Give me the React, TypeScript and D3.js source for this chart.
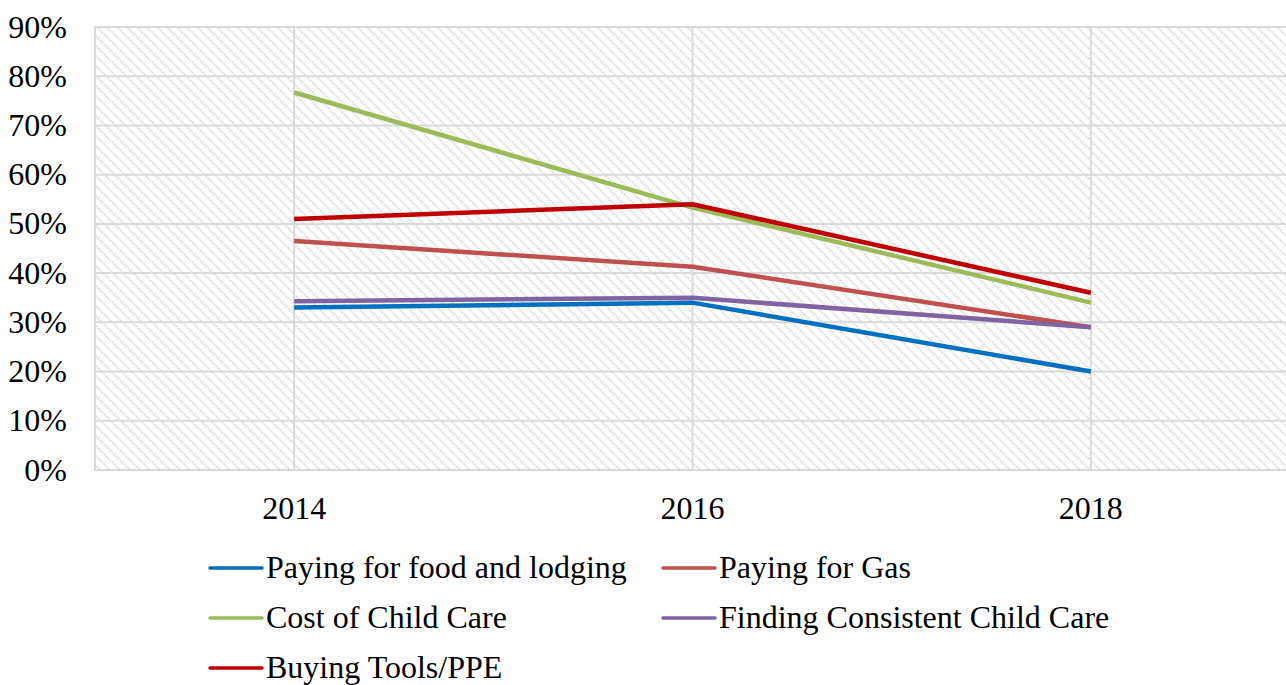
import React from "react";
import * as d3 from "d3";

// Survey years along the x axis
const years = ["2014", "2016", "2018"];

// Share of respondents reporting each hardship (percent)
const foodLodging = [33, 34, 20];
const gas = [46.5, 41.3, 29];
const childCareCost = [76.7, 53.3, 34];
const childCareConsistent = [34.3, 35, 29];
const toolsPPE = [51, 54, 36];

const seriesNames = [
  "Paying for food and lodging",
  "Paying for Gas",
  "Cost of Child Care",
  "Finding Consistent Child Care",
  "Buying Tools/PPE",
];
const seriesColors = ["#0070C0", "#C0504D", "#9BBB59", "#8064A2", "#C00000"];
const seriesValues = [foodLodging, gas, childCareCost, childCareConsistent, toolsPPE];

const yTicks = [0, 10, 20, 30, 40, 50, 60, 70, 80, 90];

const W = 1286;
const H = 685;
const plot = { left: 95, right: 1290, top: 27, bottom: 470 };
const FONT = "'Liberation Serif', 'Times New Roman', serif";
const FS = 32;

export default function App() {
  const x = d3
    .scaleBand<string>()
    .domain(years)
    .range([plot.left, plot.right])
    .paddingInner(0)
    .paddingOuter(0);
  const cx = (yr: string) => (x(yr) ?? 0) + x.bandwidth() / 2;
  const y = d3.scaleLinear().domain([0, 90]).range([plot.bottom, plot.top]);

  const line = d3
    .line<number>()
    .x((_, i) => cx(years[i]))
    .y((v) => y(v));

  // legend placement: two columns, three rows
  const legendCols = [210, 663];
  const legendRows = [568, 618, 668];

  return (
    <svg
      width={W}
      height={H}
      style={{ position: "absolute", left: 0, top: 0, background: "#fff" }}
    >
      <defs>
        <pattern id="hatch" width="10" height="10" patternUnits="userSpaceOnUse">
          <rect width="10" height="10" fill="#ffffff" />
          <path
            d="M-2,-2 L12,12 M-2,8 L2,12 M8,-2 L12,2"
            stroke="#d9d9d9"
            strokeWidth="2.2"
            strokeDasharray="1.6,1.2"
          />
        </pattern>
      </defs>

      <rect
        x={plot.left}
        y={plot.top}
        width={plot.right - plot.left}
        height={plot.bottom - plot.top}
        fill="url(#hatch)"
        stroke="#d9d9d9"
        strokeWidth={2}
      />

      {/* horizontal gridlines */}
      {yTicks.map((t) => (
        <line
          key={"h" + t}
          x1={plot.left}
          x2={plot.right}
          y1={y(t)}
          y2={y(t)}
          stroke="#d9d9d9"
          strokeWidth={2}
        />
      ))}
      {/* vertical gridlines at categories */}
      {years.map((yr) => (
        <line
          key={"v" + yr}
          x1={cx(yr)}
          x2={cx(yr)}
          y1={plot.top}
          y2={plot.bottom}
          stroke="#d9d9d9"
          strokeWidth={2}
        />
      ))}

      {/* y tick labels */}
      {yTicks.map((t) => (
        <text
          key={"yl" + t}
          x={67}
          y={y(t)}
          dy="0.33em"
          textAnchor="end"
          fontFamily={FONT}
          fontSize={FS}
          fill="#000"
        >
          {t}%
        </text>
      ))}

      {/* x tick labels */}
      {years.map((yr) => (
        <text
          key={"xl" + yr}
          x={cx(yr)}
          y={519}
          textAnchor="middle"
          fontFamily={FONT}
          fontSize={FS}
          fill="#000"
        >
          {yr}
        </text>
      ))}

      {/* series lines */}
      {seriesValues.map((vals, i) => (
        <path
          key={"s" + i}
          d={line(vals) ?? ""}
          fill="none"
          stroke={seriesColors[i]}
          strokeWidth={4.5}
          strokeLinejoin="round"
        />
      ))}

      {/* legend */}
      {seriesNames.map((name, i) => {
        const lx = legendCols[i % 2];
        const ly = legendRows[Math.floor(i / 2)];
        return (
          <g key={"lg" + i}>
            <line
              x1={lx}
              x2={lx + 52}
              y1={ly}
              y2={ly}
              stroke={seriesColors[i]}
              strokeWidth={3.5}
              strokeLinecap="round"
            />
            <text
              x={lx + 56}
              y={ly}
              dy="0.31em"
              fontFamily={FONT}
              fontSize={FS}
              fill="#000"
            >
              {name}
            </text>
          </g>
        );
      })}
    </svg>
  );
}
